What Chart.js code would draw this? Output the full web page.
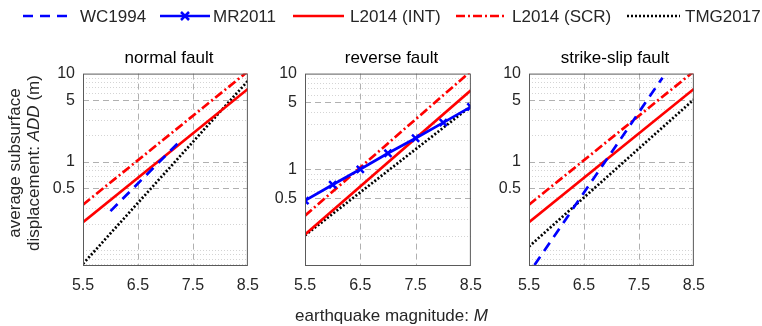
<!DOCTYPE html>
<html>
<head>
<meta charset="utf-8">
<script src="https://cdn.jsdelivr.net/npm/chart.js@4"></script>
<style>
  html, body { margin: 0; padding: 0; background: #fff; }
  #wrap { position: relative; width: 762px; height: 326px; overflow: hidden; font-family: 'Liberation Sans', Arial, sans-serif; }
  #wrap canvas { position: absolute; }
  #overlay { position: absolute; left: 0; top: 0; pointer-events: none; }
</style>
</head>
<body>
<div id="wrap">
  <canvas id="c0"></canvas>
  <canvas id="c1"></canvas>
  <canvas id="c2"></canvas>
  <svg id="overlay" width="762" height="326" font-family="Liberation Sans, Arial, sans-serif"></svg>
</div>
<script>
// ---- data ----
const panelTitles = ['normal fault', 'reverse fault', 'strike-slip fault'];
const xTicks = [5.5, 6.5, 7.5, 8.5];
const yTicks = [0.5, 1, 5, 10];
const yMins = [0.068, 0.1, 0.068];

const endMag = [5.5, 8.5];
const intADD = [0.208, 6.7];      // L2014 (INT), same in all panels
const scrADD = [0.328, 10.6];     // L2014 (SCR)

const wcNormalMag = [6.0, 7.3];
const wcNormalADD = [0.277, 1.81];
const wcStrikeMag = [5.6, 7.93];
const wcStrikeADD = [0.068, 9.0];

const mrMag = [5.5, 6, 6.5, 7, 7.5, 8, 8.5];
const mrReverseADD = [0.47, 0.69, 1.0, 1.47, 2.11, 3.07, 4.49];

const tmgNormalADD = [0.07, 8.27];
const tmgReverseADD = [0.204, 4.56];
const tmgStrikeADD = [0.11, 5.1];

// ---- layout (pixel boxes of the three axes) ----
const boxLeft = [83, 305, 529];
const boxRight = [255, 478, 701];
const boxTop = 68, boxBottom = 265;
const yAxisW = 40, padTop = 12, padRight = 15, xAxisH = 35;

const styles = {
  wc:  { label: 'WC1994', borderColor: '#0000ff', borderWidth: 2.7, borderDash: [10, 7] },
  mr:  { label: 'MR2011', borderColor: '#0000ff', borderWidth: 2.7, pointStyle: 'crossRot', pointRadius: 5, pointBorderWidth: 2.5 },
  int: { label: 'L2014 (INT)', borderColor: '#ff0000', borderWidth: 2.7 },
  scr: { label: 'L2014 (SCR)', borderColor: '#ff0000', borderWidth: 2.7, borderDash: [9, 3, 2, 3] },
  tmg: { label: 'TMG2017', borderColor: '#000000', borderWidth: 2.7, borderDash: [2, 2] }
};

function pts(xs, ys) {
  return xs.map((x, i) => ({ x: x, y: ys[i] }));
}

function ds(key, xs, ys) {
  return Object.assign({ data: pts(xs, ys), pointRadius: 0, tension: 0, fill: false, clip: 0 }, styles[key]);
}

const panelData = [
  [ds('wc', wcNormalMag, wcNormalADD), ds('int', endMag, intADD), ds('scr', endMag, scrADD), ds('tmg', endMag, tmgNormalADD)],
  [ds('mr', mrMag, mrReverseADD), ds('int', endMag, intADD), ds('scr', endMag, scrADD), ds('tmg', endMag, tmgReverseADD)],
  [ds('wc', wcStrikeMag, wcStrikeADD), ds('int', endMag, intADD), ds('scr', endMag, scrADD), ds('tmg', endMag, tmgStrikeADD)]
];

// grid + box like matlab
const matlabAxes = {
  id: 'matlabAxes',
  beforeDatasetsDraw(chart) {
    const { ctx, chartArea: a, scales: { x, y } } = chart;
    ctx.save();
    ctx.lineWidth = 1;
    ctx.strokeStyle = '#d4d4d4';
    ctx.setLineDash([1, 2]);
    for (let k = -2; k <= 0; k++) {
      for (let m = 1; m <= 9; m++) {
        const v = m * Math.pow(10, k);
        if (v < y.min || v >= y.max || yTicks.some(t => Math.abs(t - v) < 1e-9)) continue;
        const py = Math.round(y.getPixelForValue(v)) + 0.5;
        ctx.beginPath(); ctx.moveTo(a.left, py); ctx.lineTo(a.right, py); ctx.stroke();
      }
    }
    ctx.strokeStyle = '#b0b0b0';
    ctx.setLineDash([6, 4]);
    yTicks.forEach(v => {
      if (v <= y.min || v >= y.max) return;
      const py = Math.round(y.getPixelForValue(v)) + 0.5;
      ctx.beginPath(); ctx.moveTo(a.left, py); ctx.lineTo(a.right, py); ctx.stroke();
    });
    xTicks.forEach(v => {
      if (v <= x.min || v >= x.max) return;
      const px = Math.round(x.getPixelForValue(v)) + 0.5;
      ctx.beginPath(); ctx.moveTo(px, a.top); ctx.lineTo(px, a.bottom); ctx.stroke();
    });
    ctx.restore();
  },
  afterDatasetsDraw(chart) {
    const { ctx, chartArea: a } = chart;
    ctx.save();
    ctx.strokeStyle = '#5a5a5a';
    ctx.lineWidth = 1;
    ctx.strokeRect(a.left + 0.5, a.top + 0.5, a.right - a.left - 1, a.bottom - a.top);
    ctx.restore();
  }
};

const tickFont = { family: "'Liberation Sans', Arial, sans-serif", size: 16 };

panelData.forEach((datasets, i) => {
  const cv = document.getElementById('c' + i);
  const w = yAxisW + (boxRight[i] - boxLeft[i]) + padRight;
  const h = padTop + (boxBottom - boxTop) + xAxisH;
  cv.width = w; cv.height = h;
  cv.style.left = (boxLeft[i] - yAxisW) + 'px';
  cv.style.top = (boxTop - padTop) + 'px';
  new Chart(cv.getContext('2d'), {
    type: 'line',
    data: { datasets: datasets },
    options: {
      responsive: false,
      animation: false,
      layout: { padding: { top: padTop, right: padRight, left: 0, bottom: 0 } },
      plugins: { legend: { display: false }, tooltip: { enabled: false } },
      scales: {
        x: {
          type: 'linear', min: 5.5, max: 8.5,
          grid: { display: false, drawTicks: false }, border: { display: false },
          afterBuildTicks: s => { s.ticks = xTicks.map(v => ({ value: v })); },
          afterFit: s => { s.height = xAxisH; },
          ticks: { padding: 11, color: '#262626', font: tickFont, maxRotation: 0, autoSkip: false, callback: v => v.toFixed(1) }
        },
        y: {
          type: 'logarithmic', min: yMins[i], max: 10,
          grid: { display: false, drawTicks: false }, border: { display: false },
          afterBuildTicks: s => { s.ticks = yTicks.map(v => ({ value: v })); },
          afterFit: s => { s.width = yAxisW; },
          ticks: { padding: 8, color: '#262626', font: tickFont, autoSkip: false, callback: v => String(v) }
        }
      }
    },
    plugins: [matlabAxes]
  });
});

// ---- text + legend overlay ----
const svg = document.getElementById('overlay');
const NS = 'http://www.w3.org/2000/svg';
function el(tag, attrs, parent) {
  const e = document.createElementNS(NS, tag);
  for (const k in attrs) e.setAttribute(k, attrs[k]);
  (parent || svg).appendChild(e);
  return e;
}
function text(str, attrs, parent) {
  const t = el('text', attrs, parent);
  t.textContent = str;
  return t;
}

panelTitles.forEach((t, i) => {
  text(t, { x: (boxLeft[i] + boxRight[i]) / 2, y: 63, 'text-anchor': 'middle', 'font-size': 17, fill: '#000' });
});

// x label with italic M
const xl = el('text', { x: (boxLeft[1] + boxRight[1]) / 2, y: 321, 'text-anchor': 'middle', 'font-size': 17, fill: '#262626' });
xl.appendChild(document.createTextNode('earthquake magnitude: '));
const mSpan = el('tspan', { 'font-style': 'italic' }, xl);
mSpan.textContent = 'M';

// y label, two lines, italic ADD
text('average subsurface', { transform: 'translate(19.5,163) rotate(-90)', 'text-anchor': 'middle', 'font-size': 17, fill: '#262626' });
const yl = el('text', { transform: 'translate(39,163) rotate(-90)', 'text-anchor': 'middle', 'font-size': 17, fill: '#262626' });
yl.appendChild(document.createTextNode('displacement: '));
const addSpan = el('tspan', { 'font-style': 'italic' }, yl);
addSpan.textContent = 'ADD';
yl.appendChild(document.createTextNode(' (m)'));

// legend
const legendItems = [
  { key: 'wc', x1: 23, x2: 73, tx: 80 },
  { key: 'mr', x1: 160, x2: 210, tx: 213 },
  { key: 'int', x1: 293, x2: 344, tx: 350 },
  { key: 'scr', x1: 456, x2: 507, tx: 512 },
  { key: 'tmg', x1: 627, x2: 680, tx: 685 }
];
const ly = 16;
legendItems.forEach(it => {
  const s = styles[it.key];
  const a = { x1: it.x1, x2: it.x2, y1: ly, y2: ly, stroke: s.borderColor, 'stroke-width': s.borderWidth };
  if (s.borderDash) a['stroke-dasharray'] = s.borderDash.join(' ');
  el('line', a);
  if (s.pointStyle) {
    const cx = (it.x1 + it.x2) / 2, r = 4;
    el('line', { x1: cx - r, y1: ly - r, x2: cx + r, y2: ly + r, stroke: s.borderColor, 'stroke-width': 2.5 });
    el('line', { x1: cx - r, y1: ly + r, x2: cx + r, y2: ly - r, stroke: s.borderColor, 'stroke-width': 2.5 });
  }
  text(s.label, { x: it.tx, y: 22, 'font-size': 17, fill: '#262626' });
});
</script>
</body>
</html>
